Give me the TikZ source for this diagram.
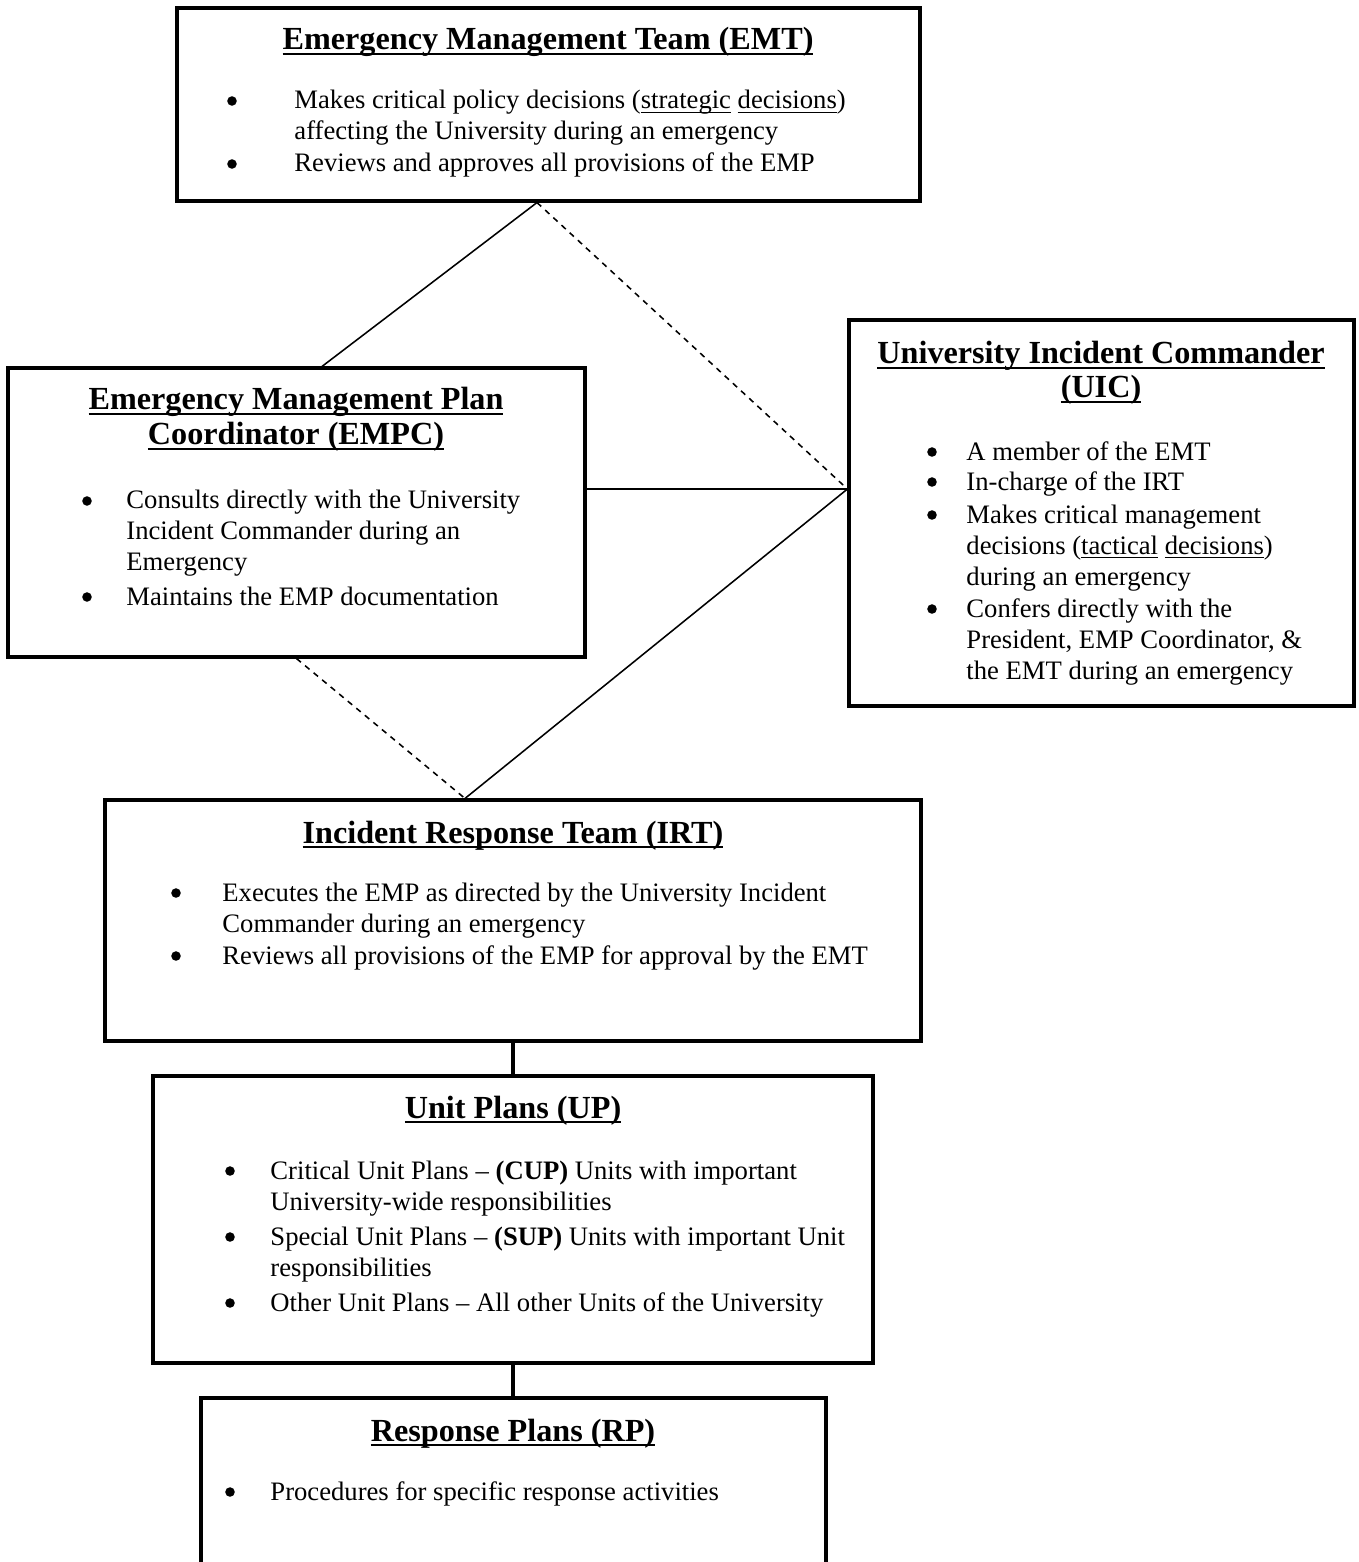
\documentclass[tikz,border=0pt]{standalone}
\usepackage{fontspec}
\setmainfont{Liberation Serif}
\usetikzlibrary{fit,calc}
\newcommand{\ulx}[1]{\leavevmode\setbox0\hbox{#1}\rlap{\rule[-1.7pt]{\wd0}{0.55pt}}\box0\relax}
\newcommand{\ulb}[1]{\leavevmode\setbox0\hbox{#1}\rlap{\rule[-2.2pt]{\wd0}{1pt}}\box0\relax}
\tikzset{
 box/.style={draw, line width=1.4pt, inner sep=0pt},
 link/.style={line width=0.7pt},
 dlink/.style={line width=0.7pt, dash pattern=on 2.6pt off 2.4pt},
 vlink/.style={line width=1.4pt},
 ttl/.style={font=\fontsize{14.5}{16}\selectfont\bfseries, inner sep=0pt, anchor=base},
 txt/.style={font=\fontsize{12}{14}\selectfont, inner sep=0pt, anchor=base west},
 bul/.style={circle, fill, inner sep=0pt, minimum size=4.3pt, yshift=3.6pt},
}
\begin{document}
\begin{tikzpicture}[x=0.4503pt, y=-0.4503pt]
\useasboundingbox (0,0) rectangle (1359,1562);
\clip (0,0) rectangle (1359,1562);
% boxes
\node[box, fit={(177,8)(920,201)}] (emt) {};
\node[box, fit={(8,368)(585,657)}] (empc) {};
\node[box, fit={(849,320)(1354,706)}] (uic) {};
\node[box, fit={(105,800)(921,1041)}] (irt) {};
\node[box, fit={(153,1076)(873,1363)}] (up) {};
\node[box, fit={(201,1398)(826,1620)}] (rp) {};
% connector points
\coordinate (emtB) at ($(emt.south)+(-11.5,0)$);
\coordinate (empcT) at ($(empc.north)+(25.5,0)$);
\coordinate (empcR) at ($(empc.east)+(0,-23.5)$);
\coordinate (uicL) at ($(uic.west)+(0,-24)$);
\coordinate (irtT) at ($(irt.north)+(-48,0)$);
\draw[link] (emtB) -- (empcT);
\draw[dlink] (emtB) -- (uicL);
\draw[link] (empcR) -- (uicL);
\draw[dlink] (empc.south) -- (irtT);
\draw[link] (irtT) -- (uicL);
\draw[vlink] (irt.south) -- (irt.south |- up.north);
\draw[vlink] (up.south) -- (up.south |- rp.north);
% EMT
\node[ttl] (emtT) at (548,50) {\ulb{Emergency Management Team (EMT)}};
\node[bul] (emtb1) at (232,109) {};
\node[txt] (emt1) at (294,109) {Makes critical policy decisions (\ulx{strategic} \ulx{decisions})};
\node[txt] (emt2) at (294,140) {affecting the University during an emergency};
\node[bul] (emtb2) at (232,172) {};
\node[txt] (emt3) at (294,172) {Reviews and approves all provisions of the EMP};
% EMPC
\node[ttl] (empcT1) at (296,410) {\ulb{Emergency Management Plan}};
\node[ttl] (empcT2) at (296,445) {\ulb{Coordinator (EMPC)}};
\node[bul] (empcb1) at (87,509) {};
\node[txt] (empc1) at (126,509) {Consults directly with the University};
\node[txt] (empc2) at (126,539) {Incident Commander during an};
\node[txt] (empc3) at (126,570) {Emergency};
\node[bul] (empcb2) at (87,605) {};
\node[txt] (empc4) at (126,605) {Maintains the EMP documentation};
% UIC
\node[ttl] (uicT1) at (1101,364) {\ulb{University Incident Commander}};
\node[ttl] (uicT2) at (1101,398) {\ulb{(UIC)}};
\node[bul] (uicb1) at (932,460) {};
\node[txt] (uic1) at (966,460) {A member of the EMT};
\node[bul] (uicb2) at (932,490) {};
\node[txt] (uic2) at (966,490) {In-charge of the IRT};
\node[bul] (uicb3) at (932,523) {};
\node[txt] (uic3) at (966,523) {Makes critical management};
\node[txt] (uic4) at (966,554) {decisions (\ulx{tactical} \ulx{decisions})};
\node[txt] (uic5) at (966,585) {during an emergency};
\node[bul] (uicb4) at (932,617) {};
\node[txt] (uic6) at (966,617) {Confers directly with the};
\node[txt] (uic7) at (966,648) {President, EMP Coordinator, \&};
\node[txt] (uic8) at (966,679) {the EMT during an emergency};
% IRT
\node[ttl] (irtT0) at (513,843) {\ulb{Incident Response Team (IRT)}};
\node[bul] (irtb1) at (176,901) {};
\node[txt] (irt1) at (222,901) {Executes the EMP as directed by the University Incident};
\node[txt] (irt2) at (222,932) {Commander during an emergency};
\node[bul] (irtb2) at (176,964) {};
\node[txt] (irt3) at (222,964) {Reviews all provisions of the EMP for approval by the EMT};
% UP
\node[ttl] (upT) at (513,1118) {\ulb{Unit Plans (UP)}};
\node[bul] (upb1) at (230,1179) {};
\node[txt] (up1) at (270,1179) {Critical Unit Plans – \textbf{(CUP)} Units with important};
\node[txt] (up2) at (270,1210) {University-wide responsibilities};
\node[bul] (upb2) at (230,1245) {};
\node[txt] (up3) at (270,1245) {Special Unit Plans – \textbf{(SUP)} Units with important Unit};
\node[txt] (up4) at (270,1276) {responsibilities};
\node[bul] (upb3) at (230,1311) {};
\node[txt] (up5) at (270,1311) {Other Unit Plans – All other Units of the University};
% RP
\node[ttl] (rpT) at (513,1441) {\ulb{Response Plans (RP)}};
\node[bul] (rpb1) at (230,1500) {};
\node[txt] (rp1) at (270,1500) {Procedures for specific response activities};
\end{tikzpicture}
\end{document}
